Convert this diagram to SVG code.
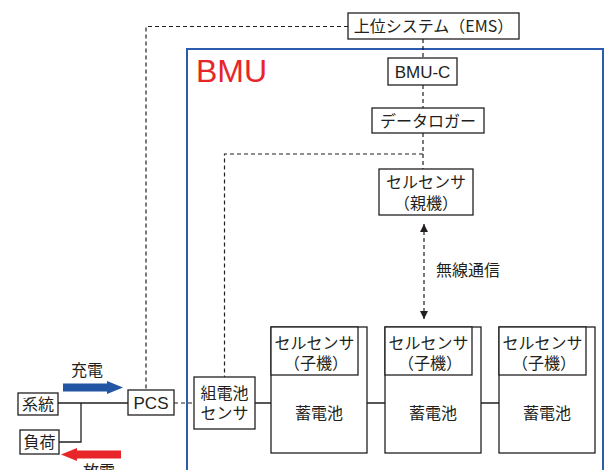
<svg xmlns="http://www.w3.org/2000/svg" width="605" height="470" viewBox="0 0 605 470">
<style>
.box{fill:#fff;stroke:#231f20;stroke-width:1.3}
.t{font-family:"Noto Sans CJK JP","Liberation Sans",sans-serif;font-size:16px;fill:#231f20;text-anchor:middle}
.l{font-family:"Liberation Sans","Noto Sans CJK JP",sans-serif;font-size:17px;fill:#231f20;text-anchor:middle}
.dash{fill:none;stroke:#231f20;stroke-width:1.2;stroke-dasharray:4 3}
.solid{fill:none;stroke:#231f20;stroke-width:1.3}
</style>
<defs>
<marker id="ah" viewBox="0 0 8 10" refX="8" refY="5" markerWidth="8" markerHeight="10" markerUnits="userSpaceOnUse" orient="auto-start-reverse">
<path d="M0,1 L8,5 L0,9 Z" fill="#231f20"/>
</marker>
</defs>
<rect width="605" height="470" fill="#fff"/>
<g id="bmu">
<rect x="187" y="49" width="416" height="440" fill="none" stroke="#2b5cb0" stroke-width="2"/>
<text x="196" y="82" font-family="Liberation Sans, sans-serif" font-size="32" fill="#e8262a">BMU</text>
</g>
<g id="connectors">
<path class="dash" d="M348,26.5 H146 V390"/>
<path class="dash" d="M423,39 V58 M423,85 V108 M423,133 V169"/>
<path class="dash" d="M423,154 H224.5 V377"/>
<path class="dash" d="M174,403 H194"/>
<path class="dash" d="M424,224 V319" marker-start="url(#ah)" marker-end="url(#ah)"/>
<path class="solid" d="M58,403 H128 M81,403 V442 H59"/>
<path class="solid" d="M255,403 H271 M367,403 H385 M481,403 H499"/>
</g>
<g id="ems"><rect class="box" x="348" y="13" width="171" height="26"/><text class="t" x="433.5" y="32">上位システム（EMS）</text></g>
<g id="bmuc"><rect class="box" x="388" y="58" width="69" height="27"/><text class="l" x="422.5" y="78">BMU-C</text></g>
<g id="logger"><rect class="box" x="372" y="108" width="112" height="25"/><text class="t" x="428" y="126.5">データロガー</text></g>
<g id="master"><rect class="box" x="379" y="169" width="94" height="46"/><text class="t" x="426" y="188">セルセンサ</text><text class="t" x="426" y="209">（親機）</text></g>
<text class="t" x="468" y="276">無線通信</text>
<g id="grid"><rect class="box" x="18" y="393" width="40" height="22"/><text class="t" x="38" y="410">系統</text></g>
<g id="load"><rect class="box" x="20" y="430" width="39" height="24"/><text class="t" x="39.5" y="448">負荷</text></g>
<g id="pcs"><rect class="box" x="128" y="390" width="46" height="25"/><text class="l" x="151" y="409">PCS</text></g>
<g id="packsensor"><rect class="box" x="194" y="377" width="61" height="52"/><text class="t" x="224.5" y="399">組電池</text><text class="t" x="224.5" y="419">センサ</text></g>
<g id="bat1"><rect class="box" x="271" y="327" width="96" height="126"/><rect class="box" x="271" y="327" width="87" height="48"/><text class="t" x="314.5" y="349">セルセンサ</text><text class="t" x="316" y="369">（子機）</text><text class="t" x="319" y="419">蓄電池</text></g>
<g id="bat2"><rect class="box" x="385" y="327" width="96" height="126"/><rect class="box" x="385" y="327" width="87" height="48"/><text class="t" x="428.5" y="349">セルセンサ</text><text class="t" x="430" y="369">（子機）</text><text class="t" x="433" y="419">蓄電池</text></g>
<g id="bat3"><rect class="box" x="499" y="327" width="96" height="126"/><rect class="box" x="499" y="327" width="87" height="48"/><text class="t" x="542.5" y="349">セルセンサ</text><text class="t" x="544" y="369">（子機）</text><text class="t" x="547" y="419">蓄電池</text></g>
<g id="charge"><polygon points="63,383.5 107,383.5 107,381 123,387.5 107,394 107,391.5 63,391.5" fill="#2255a4"/><text class="t" x="87" y="376">充電</text></g>
<g id="discharge"><polygon points="121,450.5 77,450.5 77,448 61,454.5 77,461 77,458.5 121,458.5" fill="#e8262a"/><text class="t" x="99" y="477">放電</text></g>
</svg>
